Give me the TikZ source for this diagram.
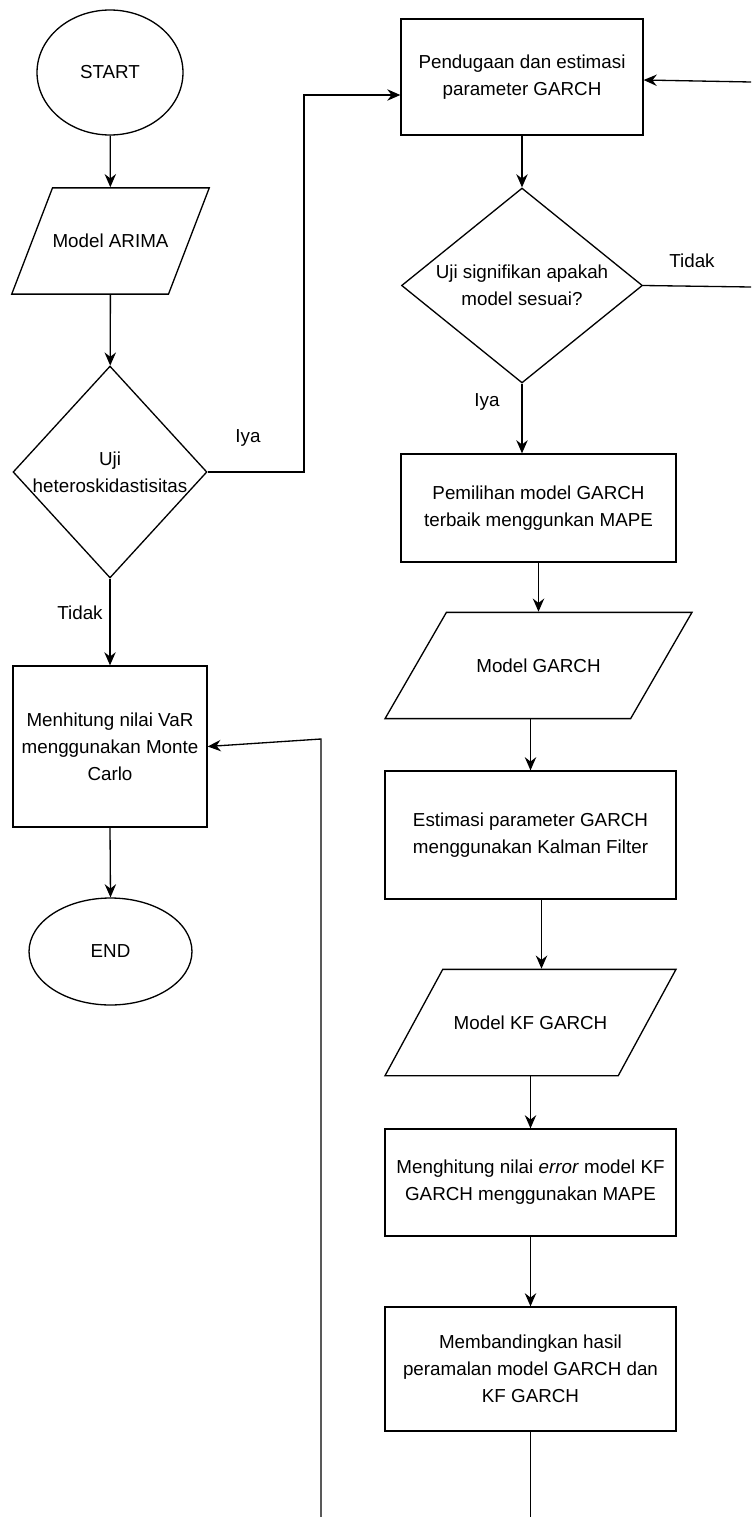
\documentclass[tikz,border=0pt]{standalone}
\usepackage{fontspec}
\setmainfont{Liberation Sans}
\usetikzlibrary{arrows.meta,shapes.geometric,calc}

\begin{document}
\begin{tikzpicture}[x=0.02cm,y=-0.02cm,
  font=\fontsize{10.7}{15.3}\selectfont,
  proc/.style={draw,rectangle,align=center,inner sep=0pt,line width=0.75pt},
  term/.style={draw,ellipse,inner sep=0pt,line width=0.75pt},
  io/.style={draw,trapezium,trapezium stretches body=true,inner sep=0pt,text depth=26.4pt,text height=34.1pt,line width=0.75pt},
  decide/.style={draw,diamond,inner sep=0pt,line width=0.75pt},
  flow/.style={line width=0.75pt,-{Stealth[length=7.5pt,width=6.5pt,inset=2.5pt]}},
  plain/.style={line width=0.75pt}]
  \useasboundingbox (0,0) rectangle (751,1517);
  % left column
  \node[term,minimum width=2.92cm,minimum height=2.5cm] (start) at (110,72.5) {START};
  \node[io,trapezium left angle=69,trapezium right angle=111,minimum width=3.9cm] (arima) at (110.5,241) {Model ARIMA};
  \node[decide,minimum width=3.88cm,minimum height=4.24cm,label={[align=center]center:Uji\\heteroskidastisitas}] (d1) at (110,472) {};
  \node[proc,minimum width=3.88cm,minimum height=3.22cm] (var) at (110,746.5) {Menhitung nilai VaR\\menggunakan Monte\\Carlo};
  \node[term,minimum width=3.26cm,minimum height=2.14cm] (end) at (110.5,951.5) {END};
  % right column
  \node[proc,minimum width=4.84cm,minimum height=2.32cm] (pend) at (522,77) {Pendugaan dan estimasi\\parameter GARCH};
  \node[decide,minimum width=4.82cm,minimum height=3.9cm,label={[align=center]center:Uji signifikan apakah\\model sesuai?}] (d2) at (522,285.5) {};
  \node[proc,minimum width=5.5cm,minimum height=2.16cm] (pem) at (538.5,508) {Pemilihan model GARCH\\terbaik menggunkan MAPE};
  \node[io,trapezium left angle=60,trapezium right angle=120,minimum width=6.14cm] (garch) at (538.5,665.5) {Model GARCH};
  \node[proc,minimum width=5.82cm,minimum height=2.56cm] (est) at (530.5,835) {Estimasi parameter GARCH\\menggunakan Kalman Filter};
  \node[io,trapezium left angle=61.5,trapezium right angle=118.5,minimum width=5.82cm] (kf) at (530.5,1022.5) {Model KF GARCH};
  \node[proc,minimum width=5.82cm,minimum height=2.14cm] (mhe) at (530.5,1182.5) {Menghitung nilai \textit{error} model KF\\GARCH menggunakan MAPE};
  \node[proc,minimum width=5.82cm,minimum height=2.48cm] (mbd) at (530.5,1369) {Membandingkan hasil\\peramalan model GARCH dan\\KF GARCH};
  % branch labels
  \node (iya1) at (248,438) {Iya};
  \node (tidak1) at (80,613) {Tidak};
  \node (tidak2) at (692,261) {Tidak};
  \node (iya2) at (487,402) {Iya};
  % loose ends
  \coordinate (iyaturn) at (304,95);
  \coordinate (rtop) at (751,82);
  \coordinate (rmid) at (751,287);
  \coordinate (lbot) at (321,1517);
  \coordinate (lturn) at (321,739);
  \coordinate (rbot) at (530.5,1517);
  % connectors
  \draw[flow] (start) -- (arima);
  \draw[flow] (arima) -- (d1);
  \draw[flow] (d1.east) -| (iyaturn) -- (iyaturn -| pend.west);
  \draw[flow] (d1.south) -- (var.north);
  \draw[flow] (var.south) -- (end.north);
  \draw[flow] (pend.south) -- (d2.north);
  \draw[plain] (d2.east) -- (rmid);
  \draw[flow] (rtop) -- ($(pend.east)+(0,3)$);
  \draw[flow] (d2.south) -- (d2.south |- pem.north);
  \draw[flow] (pem.south) -- (pem.south |- garch.north);
  \draw[flow] (garch.south -| est.north) -- (est.north);
  \draw[flow] ([xshift=0.22cm]est.south) -- ([xshift=0.22cm]est.south |- kf.north);
  \draw[flow] (kf.south -| mhe.north) -- (mhe.north);
  \draw[flow] (mhe.south) -- (mbd.north);
  \draw[plain] (mbd.south) -- (rbot);
  \draw[flow] (lbot) -- (lturn) -- (var.east);
\end{tikzpicture}
\end{document}
